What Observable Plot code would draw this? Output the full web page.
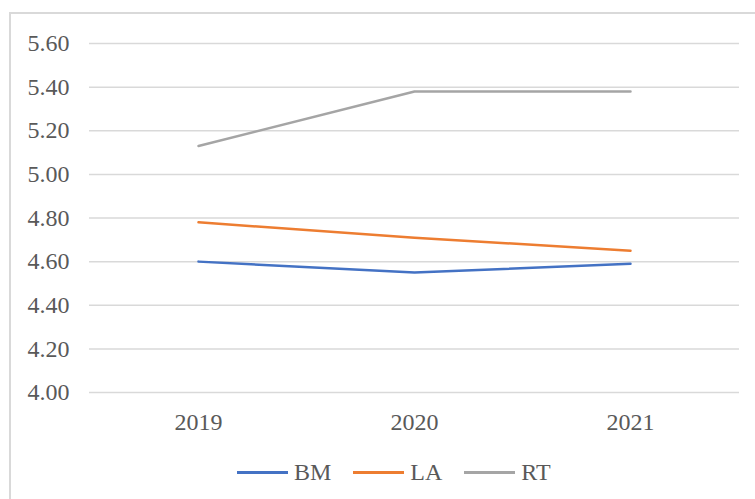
<!DOCTYPE html>
<html>
<head>
<meta charset="utf-8">
<script src="https://cdn.jsdelivr.net/npm/d3@7"></script>
<script src="https://cdn.jsdelivr.net/npm/@observablehq/plot@0.6"></script>
<style>
  html, body { margin: 0; padding: 0; background: #fff; }
  body { width: 755px; height: 499px; position: relative; overflow: hidden;
         font-family: "Liberation Serif", "Times New Roman", serif; }
  #frame { position: absolute; left: 9px; top: 12px; width: 780px; height: 520px;
           border: 2px solid #d9d9d9; box-sizing: border-box; }
  #chart { position: absolute; left: 0; top: 0; }
  #chart svg, #chart svg text { font-family: "Liberation Serif", "Times New Roman", serif !important; font-size: 24px; }
  #legend { position: absolute; left: 237px; top: 458px; height: 28px; display: flex;
            align-items: center; font-size: 24px; color: #595959; }
  .item { display: flex; align-items: center; margin-right: 22px; }
  .swatch { width: 51px; height: 3px; margin-right: 6px; }
</style>
</head>
<body>
<div id="frame"></div>
<div id="chart"></div>
<div id="legend"></div>
<script>
// Years on the category axis
const years = ["2019", "2020", "2021"];
// Series values per year
const bm = [4.60, 4.55, 4.59];
const la = [4.78, 4.71, 4.65];
const rt = [5.13, 5.38, 5.38];
// Series names and their colours
const seriesNames = ["BM", "LA", "RT"];
const seriesColors = ["#4472C4", "#ED7D31", "#A5A5A5"];
// Value-axis ticks
const yTicks = [4.0, 4.2, 4.4, 4.6, 4.8, 5.0, 5.2, 5.4, 5.6];

const serif = "Liberation Serif";

const seriesValues = [bm, la, rt];
const rows = seriesNames.flatMap((name, i) =>
  years.map((year, j) => ({ series: name, year, value: seriesValues[i][j] }))
);

const chart = Plot.plot({
  width: 755,
  height: 440,
  marginLeft: 89,
  marginRight: 16,
  marginTop: 43,
  marginBottom: 48,
  style: { fontSize: "24px", color: "#595959", background: "transparent" },
  x: { type: "point", domain: years, padding: 0.5 },
  y: { domain: [4.0, 5.6] },
  color: { domain: seriesNames, range: seriesColors },
  marks: [
    Plot.ruleY(yTicks, { stroke: "#d9d9d9", strokeWidth: 1.5 }),
    Plot.axisY({ ticks: yTicks, tickFormat: d3.format(".2f"), tickSize: 0, tickPadding: 20, label: null, fill: "#595959", fontFamily: serif, fontVariant: "normal" }),
    Plot.axisX({ tickSize: 0, tickPadding: 20, label: null, fill: "#595959", fontFamily: serif }),
    Plot.line(rows, { x: "year", y: "value", z: "series", stroke: "series", strokeWidth: 2.5, strokeLinecap: "round" })
  ]
});
document.getElementById("chart").appendChild(chart);

const legend = document.getElementById("legend");
seriesNames.forEach((name, i) => {
  const item = document.createElement("div");
  item.className = "item";
  const sw = document.createElement("div");
  sw.className = "swatch";
  sw.style.background = seriesColors[i];
  const label = document.createElement("span");
  label.textContent = name;
  item.appendChild(sw);
  item.appendChild(label);
  legend.appendChild(item);
});
</script>
</body>
</html>
